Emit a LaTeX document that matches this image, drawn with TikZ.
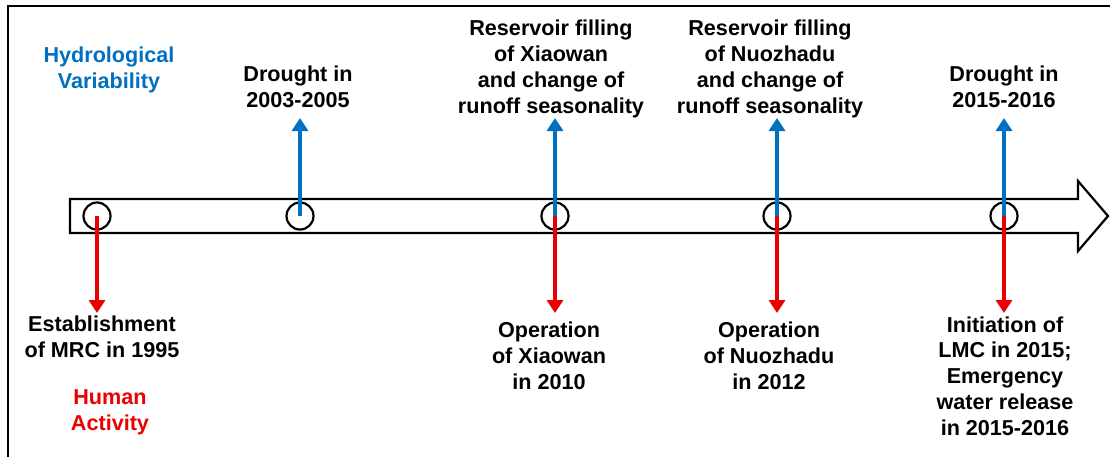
\documentclass[tikz,border=0pt]{standalone}
\usepackage{fontspec}
\setmainfont{Liberation Sans}[Ligatures=NoCommon]
\usetikzlibrary{arrows.meta}
\definecolor{hblue}{RGB}{0,112,192}
\definecolor{hred}{RGB}{235,0,0}
\begin{document}
\begin{tikzpicture}[x=1pt,y=-1pt,
  lbl/.style={font=\fontsize{21.6}{25.7}\selectfont\bfseries, align=center, anchor=base, inner sep=0pt},
  marker/.style={circle, draw=black, line width=2.2pt, minimum size=27pt, inner sep=0pt},
  uparrow/.style={draw=hblue, line width=4.5pt, -{Triangle[width=16pt,length=13pt]}},
  downarrow/.style={draw=hred, line width=4.5pt, -{Triangle[width=16pt,length=13pt]}},
]
\useasboundingbox (0,0) rectangle (1110,456);
\begin{scope}
\clip (0,0) rectangle (1110,456);
\draw[line width=2.2pt] (8,6) rectangle (1120,470);
\end{scope}
% timeline arrow
\draw[line width=2.2pt, fill=white, line join=miter]
  (70,199) -- (1078,199) -- (1078,181) -- (1108,216) -- (1078,251) -- (1078,233) -- (70,233) -- cycle;
% markers
\node[marker] (c1) at (97,216) {};
\node[marker] (c2) at (300,216) {};
\node[marker] (c3) at (555,216) {};
\node[marker] (c4) at (777,216) {};
\node[marker] (c5) at (1004,216) {};
% arrow ends
\coordinate (u2) at (300,118);
\coordinate (u3) at (555,118);
\coordinate (u4) at (777,118);
\coordinate (u5) at (1004,118);
\coordinate (d1) at (97,313);
\coordinate (d3) at (555,313);
\coordinate (d4) at (777,313);
\coordinate (d5) at (1004,313);
\draw[uparrow] (c2.center) -- (u2);
\draw[uparrow] (c3.center) -- (u3);
\draw[uparrow] (c4.center) -- (u4);
\draw[uparrow] (c5.center) -- (u5);
\draw[downarrow] (c1.center) -- (d1);
\draw[downarrow] (c3.center) -- (d3);
\draw[downarrow] (c4.center) -- (d4);
\draw[downarrow] (c5.center) -- (d5);
% labels (anchor base = baseline of last line)
\node[lbl, text=hblue] (hv) at (109,88) {Hydrological\\Variability};
\node[lbl, text=hred] (ha) at (110,430) {Human\\Activity};
\node[lbl] (t2) at (298,107) {Drought in\\2003-2005};
\node[lbl] (t3) at (551,113) {Reservoir filling\\of Xiaowan\\and change of\\runoff seasonality};
\node[lbl] (t4) at (770,113) {Reservoir filling\\of Nuozhadu\\and change of\\runoff seasonality};
\node[lbl] (t5) at (1004,107) {Drought in\\2015-2016};
\node[lbl] (b1) at (102,357) {Establishment\\of MRC in 1995};
\node[lbl] (b3) at (549,389) {Operation\\of Xiaowan\\in 2010};
\node[lbl] (b4) at (769,389) {Operation\\of Nuozhadu\\in 2012};
\node[lbl] (b5) at (1005,435) {Initiation of\\LMC in 2015;\\Emergency\\water release\\in 2015-2016};
\end{tikzpicture}
\end{document}
